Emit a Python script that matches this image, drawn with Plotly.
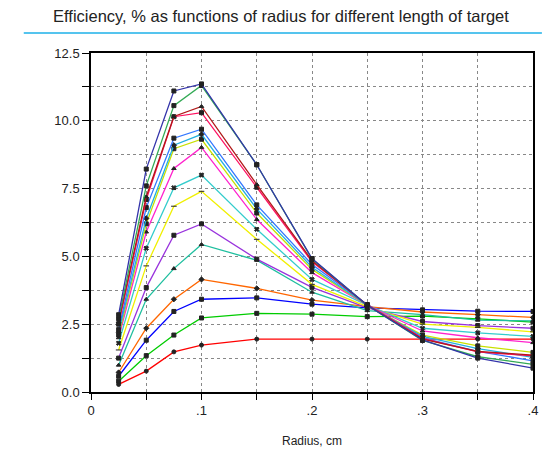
import plotly.graph_objects as go

radius = [0.025, 0.05, 0.075, 0.1, 0.15, 0.2, 0.25, 0.3, 0.35, 0.4]

s_red = [0.28, 0.77, 1.48, 1.73, 1.95, 1.95, 1.95, 1.95, 1.95, 1.95]
s_green = [0.40, 1.34, 2.10, 2.73, 2.90, 2.87, 2.78, 2.80, 2.70, 2.58]
s_blue = [0.58, 1.91, 2.97, 3.42, 3.47, 3.24, 3.10, 3.03, 2.98, 2.97]
s_orange = [0.72, 2.35, 3.42, 4.15, 3.82, 3.39, 3.15, 2.95, 2.85, 2.75]
s_teal = [0.99, 3.42, 4.55, 5.44, 4.86, 3.68, 3.00, 2.85, 2.65, 2.62]
s_purple = [1.25, 3.85, 5.78, 6.20, 4.90, 3.86, 3.10, 2.60, 2.45, 2.35]
s_yellow = [1.55, 4.65, 6.85, 7.40, 5.63, 3.97, 3.15, 2.50, 2.38, 2.22]
s_cyan = [1.80, 5.30, 7.53, 8.00, 6.00, 4.15, 3.20, 2.35, 2.18, 2.05]
s_magenta = [2.00, 5.90, 8.24, 9.02, 6.36, 4.40, 3.20, 2.25, 2.00, 1.82]
s_ygreen = [2.10, 6.20, 8.97, 9.32, 6.60, 4.52, 3.20, 2.10, 1.70, 1.46]
s_lblue = [2.20, 6.40, 9.10, 9.50, 6.75, 4.60, 3.20, 2.05, 1.60, 1.28]
s_rblue = [2.30, 6.80, 9.36, 9.69, 6.90, 4.70, 3.22, 2.00, 1.50, 1.15]
s_pink = [2.50, 7.10, 10.15, 10.30, 7.55, 4.80, 3.22, 1.98, 1.48, 1.33]
s_dred = [2.60, 7.20, 10.16, 10.53, 7.65, 4.85, 3.20, 1.95, 1.50, 1.36]
s_dgreen = [2.70, 7.60, 10.56, 11.30, 8.38, 4.90, 3.20, 1.90, 1.30, 1.02]
s_dblue = [2.85, 8.22, 11.10, 11.36, 8.38, 4.92, 3.20, 1.92, 1.25, 0.88]

series = [
    (s_red, '#ff0000', 'circle'),
    (s_green, '#00cc00', 'square'),
    (s_blue, '#0000ff', 'square'),
    (s_orange, '#ff6600', 'diamond'),
    (s_teal, '#1fbf9f', 'triangle-up'),
    (s_purple, '#9933dd', 'square'),
    (s_yellow, '#f0f000', 'line-ew'),
    (s_cyan, '#33cccc', 'x'),
    (s_magenta, '#ff22cc', 'triangle-up'),
    (s_ygreen, '#c8e000', 'square'),
    (s_lblue, '#22b0e0', 'diamond'),
    (s_rblue, '#3377ff', 'square'),
    (s_pink, '#ff1060', 'square'),
    (s_dred, '#b01818', 'triangle-up'),
    (s_dgreen, '#33aa55', 'square'),
    (s_dblue, '#3333aa', 'square'),
]

fig = go.Figure()
for vals, col, sym in series:
    fig.add_trace(go.Scatter(
        x=radius, y=vals, mode='lines+markers',
        line=dict(color=col, width=1.3),
        marker=dict(symbol=sym, size=4, color='#222222',
                    line=dict(color='#222222', width=1)),
        showlegend=False, hoverinfo='skip'))

xt = [i * 0.05 for i in range(9)]
xl = ['0', '', '.1', '', '.2', '', '.3', '', '.4']
yt = [i * 1.25 for i in range(11)]
yl = ['0.0', '', '2.5', '', '5.0', '', '7.5', '', '10.0', '', '12.5']

font = 'Arial, Liberation Sans, sans-serif'
fig.update_layout(
    width=547, height=455,
    margin=dict(l=91, r=9, t=53, b=63),
    paper_bgcolor='white', plot_bgcolor='white',
    font=dict(family=font, size=13, color='#222222'),
    xaxis=dict(range=[0, 0.4], tickvals=xt, ticktext=xl,
               showgrid=True, gridcolor='#888888', griddash='dot', gridwidth=1,
               zeroline=False, showline=True, mirror=True, linecolor='black', linewidth=1.5,
               ticks='outside', ticklen=6, tickcolor='black'),
    yaxis=dict(range=[0, 12.5], tickvals=yt, ticktext=yl,
               showgrid=True, gridcolor='#888888', griddash='dot', gridwidth=1,
               zeroline=False, showline=True, mirror=True, linecolor='black', linewidth=1.5,
               ticks='outside', ticklen=7, tickcolor='black'),
    annotations=[
        dict(text='Efficiency, % as functions of radius for different length of target',
             xref='paper', yref='paper', x=(283 - 91) / 447, y=(392 - 16) / 339,
             xanchor='center', yanchor='middle', showarrow=False,
             font=dict(family=font, size=16.5, color='#222222')),
        dict(text='Radius, cm', xref='paper', yref='paper',
             x=(314 - 91) / 447, y=(392 - 441) / 339,
             xanchor='center', yanchor='middle', showarrow=False,
             font=dict(family=font, size=12, color='#222222')),
    ],
    shapes=[
        dict(type='line', xref='paper', yref='paper',
             x0=(23 - 91) / 447, x1=(547 - 91) / 447,
             y0=(392 - 33) / 339, y1=(392 - 33) / 339,
             line=dict(color='#55c4ee', width=2)),
    ],
)

fig.write_html('out.html', config={'displayModeBar': False},
               post_script="document.body.style.margin='0';document.body.style.overflow='hidden';")
